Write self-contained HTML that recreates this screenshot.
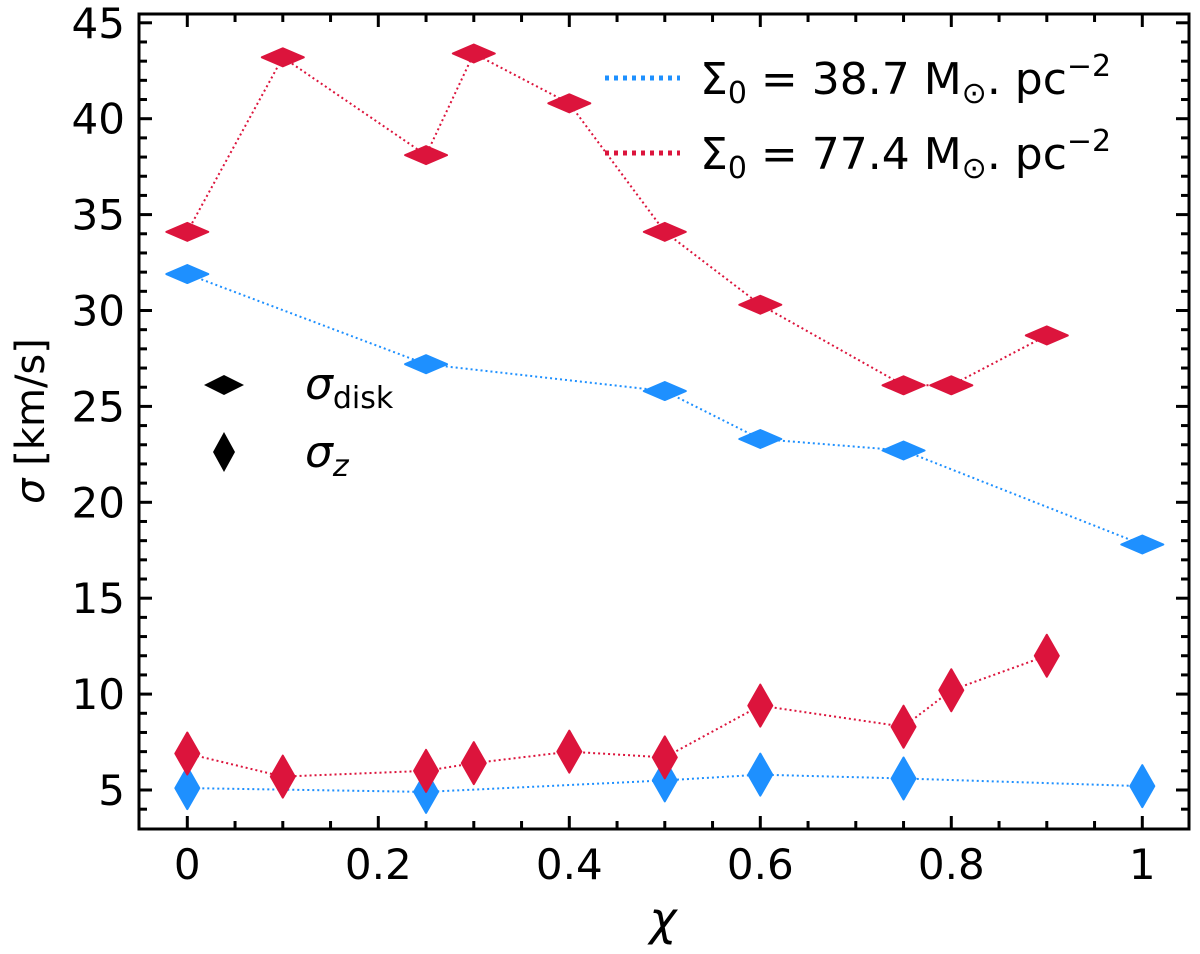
<!DOCTYPE html>
<html><head><meta charset="utf-8"><style>
body{margin:0;background:#fff}
svg text{font-family:"DejaVu Sans","Liberation Sans",sans-serif;fill:#000}
</style></head><body>
<svg id="chart" width="1200" height="949" xmlns="http://www.w3.org/2000/svg">
</svg>
<script>
const xTicks=[0,0.2,0.4,0.6,0.8,1];
const xTickLabels=["0","0.2","0.4","0.6","0.8","1"];
const yTicks=[5,10,15,20,25,30,35,40,45];
const redX=[0,0.1,0.25,0.3,0.4,0.5,0.6,0.75,0.8,0.9];
const redDisk=[34.1,43.2,38.1,43.4,40.8,34.1,30.3,26.1,26.1,28.7];
const redZ=[6.9,5.7,6.0,6.4,7.0,6.7,9.4,8.3,10.2,12.0];
const blueX=[0,0.25,0.5,0.6,0.75,1];
const blueDisk=[31.9,27.2,25.8,23.3,22.7,17.8];
const blueZ=[5.1,4.9,5.5,5.8,5.6,5.2];

const L=139,R=1189,T=14,B=829;
const X=v=>187.3+(v-0)*955;
const Y=v=>790-(v-5)*19.18;
const svg=document.getElementById('chart');
const NS='http://www.w3.org/2000/svg';
function mk(tag,attrs,parent){const e=document.createElementNS(NS,tag);for(const k in attrs)e.setAttribute(k,attrs[k]);(parent||svg).appendChild(e);return e;}
const BLUE='#1e90ff',RED='#dc143c';

function series(xs,ys,color,horiz,name){
  const pts=xs.map((x,i)=>X(x)+','+Y(ys[i])).join(' ');
  const pl=mk('polyline',{points:pts,fill:'none',stroke:color,'stroke-width':2,'stroke-dasharray':'2 3'});
  
  
  xs.forEach((x,i)=>{
    const cx=X(x),cy=Y(ys[i]);const w=horiz?21:12,h=horiz?9:21;
    const p=mk('polygon',{points:`${cx-w},${cy} ${cx},${cy-h} ${cx+w},${cy} ${cx},${cy+h}`,fill:color,stroke:color,'stroke-width':2,'stroke-linejoin':'round'});
    
    
  });
}
series(blueX,blueDisk,BLUE,true,'blue-disk');
series(redX,redDisk,RED,true,'red-disk');
series(blueX,blueZ,BLUE,false,'blue-z');
series(redX,redZ,RED,false,'red-z');

const fr=mk('rect',{x:L,y:T,width:R-L,height:B-T,fill:'none',stroke:'#000','stroke-width':3});


for(let k=-1;k<=21;k++){const v=k*0.05;const x=X(v);if(x<L+2||x>R-2)continue;const major=k%4===0;const len=major?13:8;
  mk('line',{x1:x,x2:x,y1:B,y2:B-len,stroke:'#000','stroke-width':3});
  mk('line',{x1:x,x2:x,y1:T,y2:T+len,stroke:'#000','stroke-width':3});}
xTicks.forEach((v,i)=>{const t=mk('text',{x:X(v),y:879,'font-size':42,'text-anchor':'middle'});t.textContent=xTickLabels[i];
  
  });
for(let v=3;v<=45;v++){const y=Y(v);if(y<T+2||y>B-2)continue;const major=v%5===0;const len=major?13:8;
  mk('line',{x1:L,x2:L+len,y1:y,y2:y,stroke:'#000','stroke-width':3});
  mk('line',{x1:R,x2:R-len,y1:y,y2:y,stroke:'#000','stroke-width':3});}
yTicks.forEach(v=>{const t=mk('text',{x:125,y:Y(v)+15,'font-size':42,'text-anchor':'end'});t.textContent=String(v);
  
  });
</script>
<svg style="position:absolute;left:0;top:0" width="1200" height="949" xmlns="http://www.w3.org/2000/svg">
<text x="663" y="935" font-size="46" font-style="italic" text-anchor="middle">χ</text>
<text transform="translate(44,421) rotate(-90)" font-size="40" text-anchor="middle"><tspan font-style="italic">σ</tspan> [km/s]</text>
<g>
<line x1="605" x2="680" y1="78" y2="78" stroke="#1e90ff" stroke-width="5" stroke-dasharray="4 5"/>
<text x="700" y="94" font-size="44">Σ<tspan font-size="30" dy="9">0</tspan><tspan dy="-9"> = 38.7 M</tspan><tspan font-size="30" dy="9">⊙</tspan><tspan dy="-9">. pc</tspan><tspan font-size="30" dy="-18">−2</tspan></text>
</g>
<g>
<line x1="605" x2="680" y1="153" y2="153" stroke="#dc143c" stroke-width="5" stroke-dasharray="4 5"/>
<text x="700" y="169" font-size="44">Σ<tspan font-size="30" dy="9">0</tspan><tspan dy="-9"> = 77.4 M</tspan><tspan font-size="30" dy="9">⊙</tspan><tspan dy="-9">. pc</tspan><tspan font-size="30" dy="-18">−2</tspan></text>
</g>
<g>
<polygon points="204,385 224,375 244,385 224,395" fill="#000"/>
<text x="305" y="399" font-size="44"><tspan font-style="italic">σ</tspan><tspan font-size="30" dy="9">disk</tspan></text>
</g>
<g>
<polygon points="213,452 224,432 235,452 224,472" fill="#000"/>
<text x="305" y="467" font-size="44"><tspan font-style="italic">σ</tspan><tspan font-size="30" dy="9" font-style="italic">z</tspan></text>
</g>
</svg>
</body></html>
